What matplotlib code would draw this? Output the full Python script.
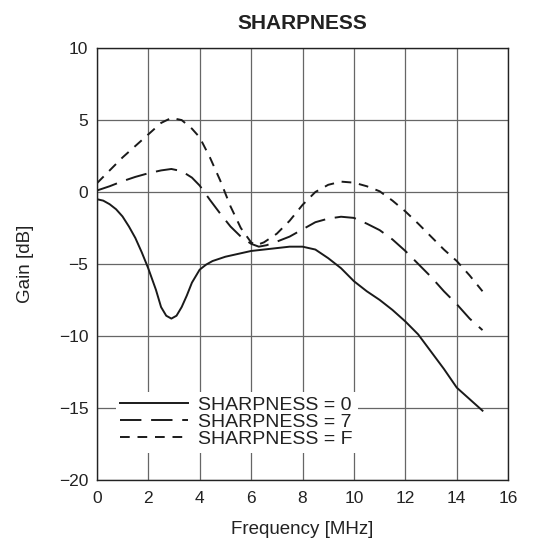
import matplotlib.pyplot as plt

plt.rcParams['font.family'] = ['Liberation Sans', 'DejaVu Sans']

# ======================
# DATA
# ======================
freq_s0 = [0, 0.25, 0.5, 0.75, 1.0, 1.25, 1.5, 1.75, 2.0, 2.3, 2.5, 2.7, 2.9,
           3.1, 3.3, 3.5, 3.7, 4.0, 4.25, 4.5, 5.0, 5.5, 6.0, 6.5, 7.0, 7.5,
           8.0, 8.5, 9.0, 9.5, 10.0, 10.5, 11.0, 11.5, 12.0, 12.5, 13.0, 13.5,
           14.0, 14.5, 15.0]
gain_s0 = [-0.5, -0.6, -0.85, -1.2, -1.7, -2.4, -3.2, -4.2, -5.3, -6.8, -8.0,
           -8.6, -8.8, -8.6, -8.0, -7.2, -6.3, -5.4, -5.05, -4.8, -4.5, -4.3,
           -4.1, -4.0, -3.9, -3.8, -3.8, -4.0, -4.6, -5.3, -6.2, -6.9, -7.5,
           -8.2, -9.0, -9.9, -11.1, -12.3, -13.6, -14.4, -15.2]

freq_s7 = [0, 0.5, 1.0, 1.5, 2.0, 2.5, 2.9, 3.3, 3.7, 4.0, 4.4, 4.8, 5.2, 5.6,
           6.0, 6.3, 6.6, 7.0, 7.5, 8.0, 8.5, 9.0, 9.5, 10.0, 10.5, 11.0, 11.5,
           12.0, 12.5, 13.0, 13.5, 14.0, 14.5, 15.0]
gain_s7 = [0.1, 0.4, 0.75, 1.05, 1.3, 1.5, 1.6, 1.45, 1.0, 0.45, -0.55, -1.5,
           -2.4, -3.1, -3.6, -3.8, -3.7, -3.45, -3.1, -2.6, -2.1, -1.85, -1.72,
           -1.8, -2.2, -2.65, -3.3, -4.1, -5.0, -5.9, -6.9, -7.8, -8.8, -9.6]

freq_sf = [0, 0.5, 1.0, 1.5, 2.0, 2.5, 2.9, 3.3, 3.7, 4.0, 4.4, 4.8, 5.2, 5.6,
           6.0, 6.2, 6.5, 7.0, 7.5, 8.0, 8.5, 9.0, 9.5, 10.0, 10.5, 11.0, 11.5,
           12.0, 12.5, 13.0, 13.5, 14.0, 14.5, 15.0]
gain_sf = [0.6, 1.5, 2.4, 3.2, 4.0, 4.8, 5.15, 5.0, 4.4, 3.8, 2.4, 0.8, -1.0,
           -2.5, -3.5, -3.7, -3.5, -2.9, -2.0, -0.9, 0.0, 0.5, 0.72, 0.65, 0.4,
           0.05, -0.6, -1.35, -2.2, -3.1, -4.0, -4.8, -5.8, -6.9]

labels = ["SHARPNESS = 0", "SHARPNESS = 7", "SHARPNESS = F"]
x_ticks = [0, 2, 4, 6, 8, 10, 12, 14, 16]
y_ticks = [-20, -15, -10, -5, 0, 5, 10]


def main():
    fig = plt.figure(figsize=(5.5, 5.47), dpi=100)
    ax = fig.add_axes([0.176, 0.123, 0.748, 0.789])

    ink = '#1a1a1a'
    text_col = '#222222'
    ax.plot(freq_s0, gain_s0, color=ink, lw=1.4, label=labels[0])
    ax.plot(freq_s7, gain_s7, color=ink, lw=1.4, dashes=(11, 5),
            label=labels[1])
    ax.plot(freq_sf, gain_sf, color=ink, lw=1.4, dashes=(5, 4),
            label=labels[2])

    ax.set_xlim(0, 16)
    ax.set_ylim(-20, 10)
    ax.set_xticks(x_ticks)
    ax.set_yticks(y_ticks)
    ax.tick_params(length=0, labelsize=12.5, colors=text_col)
    ax.tick_params(axis='x', pad=8)
    ax.tick_params(axis='y', pad=6)
    ax.grid(True, color='#666666', lw=0.9)
    ax.set_axisbelow(True)
    for sp in ax.spines.values():
        sp.set_color(text_col)
        sp.set_linewidth(1.0)

    ax.set_xlabel("Frequency [MHz]", fontsize=13.5, labelpad=11,
                  color=text_col)
    ax.set_ylabel("Gain [dB]", fontsize=13.5, labelpad=18, color=text_col)
    ax.set_title("SHARPNESS", fontsize=15, fontweight='bold', pad=14,
                 color=text_col)

    leg = ax.legend(loc='lower left', bbox_to_anchor=(0.022, 0.04),
                    fontsize=14, handlelength=3.5, handletextpad=0.5,
                    labelspacing=-0.04, borderpad=0.25, frameon=True,
                    fancybox=False)
    leg.get_frame().set_edgecolor('none')
    leg.get_frame().set_facecolor('white')
    leg.get_frame().set_alpha(1.0)
    for t in leg.get_texts():
        t.set_color(text_col)

    fig.savefig("out.png", dpi=100)
    plt.close(fig)


if __name__ == "__main__":
    main()
